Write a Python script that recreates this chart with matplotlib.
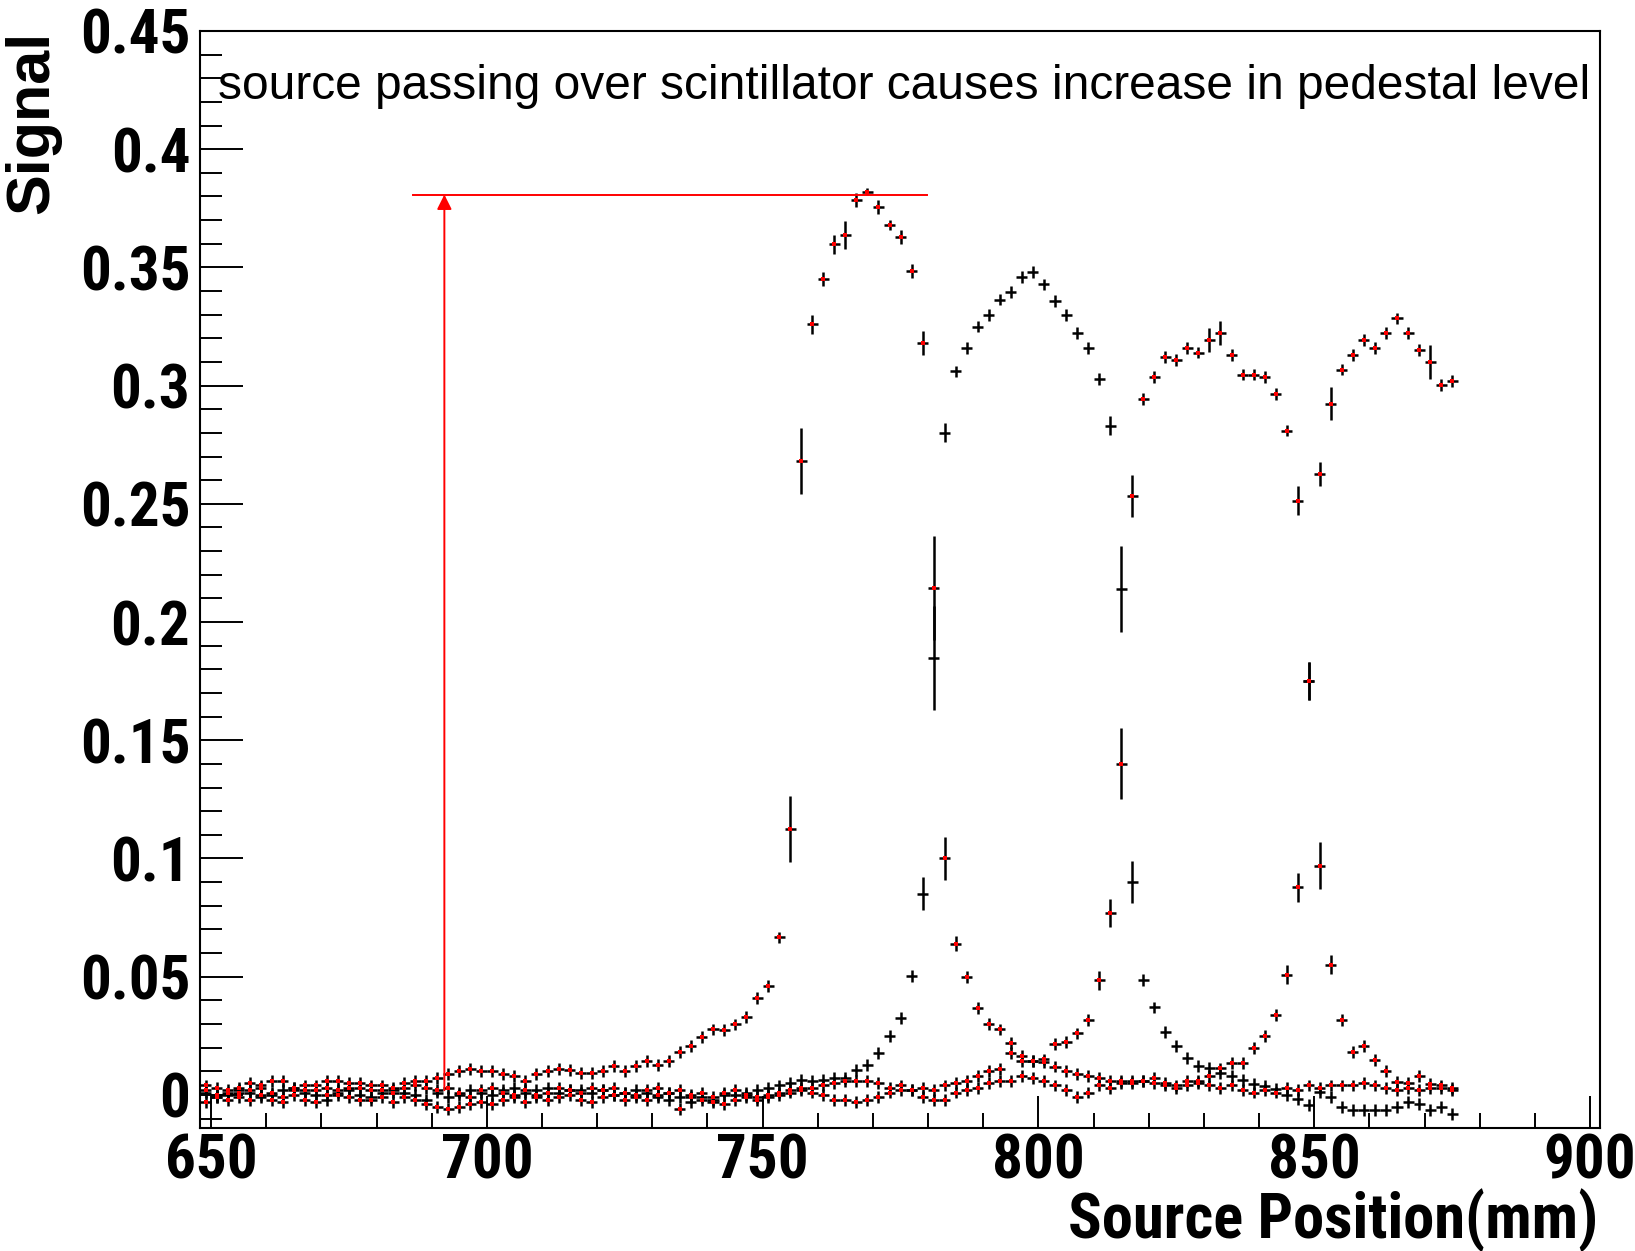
import matplotlib
matplotlib.use("Agg")
import matplotlib.pyplot as plt
from matplotlib import font_manager
from matplotlib.font_manager import FontProperties
from matplotlib.ticker import MultipleLocator, FuncFormatter
import numpy as np
import os

# ---------------- data ----------------
positions = list(range(649, 877, 2))  # source positions (mm), bin centres

scan1 = [0.004, 0.003, 0.001, 0.003, 0.005, 0.004, 0.006, 0.006, 0.003, 0.002,
         0.004, 0.006, 0.006, 0.005, 0.003, 0.004, 0.002, 0.003, 0.005, 0.006,
         0.006, 0.007,
         0.009, 0.010, 0.011, 0.010, 0.010, 0.009, 0.008, 0.006, 0.009, 0.010,
         0.011, 0.0105, 0.0094, 0.0093, 0.0102, 0.0122, 0.0102, 0.0122, 0.0143, 0.0125,
         0.0143, 0.0183, 0.0207, 0.0246, 0.0277, 0.0274, 0.0298, 0.0331, 0.0411, 0.0461,
         0.0666, 0.1125, 0.268, 0.326, 0.345, 0.3597, 0.3636, 0.3786,
         0.382, 0.3755, 0.368, 0.3628, 0.3486, 0.318, 0.2145, 0.100, 0.064, 0.050,
         0.0366, 0.0300, 0.0277, 0.022, 0.0165, 0.0145, 0.014, 0.012, 0.010, 0.009,
         0.008, 0.007, 0.006, 0.006, 0.005, 0.006, 0.005, 0.004, 0.004, 0.006,
         0.005, 0.004, 0.003, 0.004, 0.002, 0.001, 0.002, 0.001, 0.003, 0.002,
         0.004, 0.003, 0.004, 0.004, 0.004, 0.005, 0.004, 0.003, 0.002, 0.003,
         0.002, 0.003, 0.003, 0.002]

scan2 = [0.001, -0.001, 0.000, 0.002, 0.001, -0.001, 0.000, 0.002, 0.003, 0.001,
         0.000, -0.002, 0.001, 0.002, 0.000, -0.001, 0.001, 0.002, 0.001, 0.000,
         -0.002, 0.001,
         -0.001, 0.000, 0.002, 0.001, 0.000, 0.002, 0.003, 0.001, 0.002, 0.003,
         0.001, 0.002, 0.002, 0.001, 0.002, 0.000, 0.001, 0.002, 0.001, -0.001,
         -0.002, -0.001, -0.003, -0.001, -0.002, 0.000, 0.000, 0.001, 0.002, 0.003,
         0.004, 0.005, 0.0063, 0.006, 0.0063, 0.007, 0.007, 0.0106,
         0.0126, 0.0176, 0.0249, 0.0324, 0.0503, 0.085, 0.185, 0.280, 0.306, 0.316,
         0.325, 0.330, 0.3364, 0.3397, 0.346, 0.348, 0.3428, 0.3357, 0.330, 0.3223,
         0.316, 0.3028, 0.283, 0.214, 0.090, 0.0485, 0.037, 0.0267, 0.0207, 0.0155,
         0.0123, 0.0113, 0.0094, 0.008, 0.0063, 0.0046, 0.0037, 0.0027, 0.000, -0.0019,
         -0.0043, 0.0014, -0.001, -0.005, -0.0064, -0.0064, -0.0064, -0.0064, -0.005, -0.003,
         -0.004, -0.0064, -0.005, -0.0081]

scan3 = [-0.003, -0.001, 0.002, 0.001, -0.002, 0.003, 0.001, -0.001, 0.002, 0.004,
         0.002, 0.003, 0.000, 0.003, 0.005, 0.002, 0.004, 0.001, 0.003, 0.004,
         0.003, 0.002,
         0.003, 0.001, -0.001, 0.002, 0.003, 0.001, 0.000, 0.002, -0.001, 0.001,
         0.003, 0.002, 0.001, 0.003, 0.002, 0.003, 0.001, 0.000, 0.002, 0.003,
         0.001, 0.002, 0.000, -0.002, -0.001, 0.001, 0.002, 0.000, -0.002, -0.001,
         0.000, 0.002, 0.003, 0.001, 0.000, -0.002, -0.002, -0.003,
         -0.002, -0.001, 0.001, 0.002, 0.002, 0.003, 0.002, 0.004, 0.005, 0.006,
         0.008, 0.010, 0.011, 0.0178, 0.0145, 0.0145, 0.0150, 0.0215, 0.0225, 0.026,
         0.0317, 0.0485, 0.077, 0.140, 0.2534, 0.2945, 0.3037, 0.3121, 0.311, 0.316,
         0.314, 0.3192, 0.3223, 0.3128, 0.3047, 0.3047, 0.3037, 0.2966, 0.281, 0.2514,
         0.175, 0.097, 0.055, 0.0318, 0.0183, 0.0207, 0.0148, 0.0101, 0.0056, 0.005,
         0.008, 0.0045, 0.004, 0.003]

scan4 = [0.002, 0.000, -0.002, -0.001, 0.002, 0.000, -0.002, -0.003, 0.000, -0.002,
         -0.003, 0.000, 0.002, -0.001, -0.002, -0.002, -0.001, -0.003, -0.001, -0.002,
         -0.004, -0.005,
         -0.006, -0.005, -0.004, -0.003, -0.004, -0.002, -0.001, -0.003, 0.000, -0.002,
         -0.001, 0.000, -0.002, -0.003, -0.001, 0.000, -0.002, -0.001, -0.002, 0.000,
         0.001, -0.006, -0.001, 0.001, -0.003, -0.004, -0.002, -0.001, -0.001, 0.000,
         0.001, 0.001, 0.002, 0.003, 0.004, 0.005, 0.006, 0.006,
         0.006, 0.005, 0.003, 0.004, 0.002, -0.001, -0.002, -0.002, 0.001, 0.002,
         0.003, 0.005, 0.006, 0.006, 0.008, 0.007, 0.006, 0.004, 0.002, -0.001,
         0.001, 0.004, 0.003, 0.005, 0.006, 0.006, 0.007, 0.005, 0.003, 0.004,
         0.006, 0.008, 0.0112, 0.0136, 0.0136, 0.0197, 0.0249, 0.0338, 0.0508, 0.0878,
         0.175, 0.2627, 0.2924, 0.3068, 0.3128, 0.3192, 0.316, 0.3223, 0.3284, 0.3223,
         0.315, 0.310, 0.3004, 0.3018]

base_err = 0.0025
err1 = {755: 0.014, 757: 0.014, 759: 0.004, 761: 0.003, 763: 0.004, 765: 0.006,
        767: 0.003, 769: 0.0015, 771: 0.003, 773: 0.002, 775: 0.003, 777: 0.003,
        779: 0.005, 781: 0.022, 783: 0.009, 785: 0.003}
err2 = {779: 0.007, 781: 0.022, 783: 0.004, 813: 0.004, 815: 0.018, 817: 0.009}
err3 = {811: 0.004, 813: 0.006, 815: 0.015, 817: 0.009, 831: 0.005, 833: 0.005,
        847: 0.006, 849: 0.008, 851: 0.010, 853: 0.004}
err4 = {845: 0.004, 847: 0.006, 849: 0.008, 851: 0.005, 853: 0.007, 871: 0.007}

x_half_width = 1.0

# ---------------- fonts ----------------
def find_condensed_bold():
    files = [f.fname for f in font_manager.fontManager.ttflist]
    prefs = ['LiberationSansNarrow-Bold.', 'NotoSans-CondensedBold.', 'RobotoCondensed-Bold.',
             'Roboto_Condensed-Bold', 'OpenSans-CondensedBold', 'OpenSans_Condensed-Bold',
             'DejaVuSansCondensed-Bold.']
    for p in prefs:
        for f in files:
            if os.path.basename(f).startswith(p) or p in os.path.basename(f):
                return f
    return None

cond_file = find_condensed_bold()
plain_font = 'Liberation Sans'


def bold_props(size):
    name = os.path.basename(cond_file) if cond_file else ''
    if cond_file and 'DejaVu' not in name:
        return FontProperties(fname=cond_file, size=size)
    return FontProperties(family='Liberation Sans', weight='bold', size=size * 0.92)


W, H = 1635, 1251
fig = plt.figure(figsize=(W / 100, H / 100), dpi=100)
ax = fig.add_axes([200 / W, 1 - 1128 / H, 1400 / W, (1128 - 31) / H])

series = [(scan1, err1, 'red'), (scan2, err2, None), (scan3, err3, 'red'), (scan4, err4, 'red')]
x = np.array(positions)
for vals, errs, mcol in series:
    yerr = np.array([errs.get(p, base_err) for p in positions])
    ax.errorbar(x, vals, xerr=x_half_width, yerr=yerr, fmt='none', ecolor='black',
                elinewidth=1.8, capsize=0, zorder=2)
    if mcol:
        ax.plot(x, vals, ls='none', marker='s', ms=2.2, mfc='red', mec='red',
                mew=0, zorder=3)

ax.set_xlim(648, 901.8)
ax.set_ylim(-0.014, 0.45)

# red annotation lines
ax.plot([686.6, 779.8], [0.3808, 0.3808], color='red', lw=1.4, zorder=4)
ax.annotate('', xy=(692.3, 0.3808), xytext=(692.3, 0.002),
            arrowprops=dict(arrowstyle='-|>', color='red', lw=1.4, mutation_scale=22,
                            shrinkA=0, shrinkB=0), zorder=4)

ax.text(651.3, 0.4265, 'source passing over scintillator causes increase in pedestal level',
        fontsize=34.5, family=plain_font, ha='left', va='center')

# axes / ticks (ROOT style)
for s in ax.spines.values():
    s.set_linewidth(1.5)
ax.xaxis.set_major_locator(MultipleLocator(50))
ax.xaxis.set_minor_locator(MultipleLocator(10))
ax.yaxis.set_major_locator(MultipleLocator(0.05))
ax.yaxis.set_minor_locator(MultipleLocator(0.01))
ax.tick_params(axis='both', which='both', direction='in', top=False, right=False, width=1.4)
ax.tick_params(axis='x', which='major', length=23, pad=3)
ax.tick_params(axis='x', which='minor', length=11)
ax.tick_params(axis='y', which='major', length=31, pad=7)
ax.tick_params(axis='y', which='minor', length=16)
ax.yaxis.set_major_formatter(FuncFormatter(lambda v, p: '%g' % round(v, 3)))
tick_fp = bold_props(44)
for lab in ax.get_xticklabels() + ax.get_yticklabels():
    lab.set_fontproperties(tick_fp)

fig.text(1598 / W, 1 - 1220 / H, 'Source Position(mm)', ha='right', va='center',
         fontproperties=bold_props(45))
fig.text(33 / W, 1 - 31 / H, 'Signal', rotation=90, ha='center', va='top',
         fontproperties=FontProperties(family='Liberation Sans', weight='bold', size=44))

fig.savefig('out.png', dpi=100)
